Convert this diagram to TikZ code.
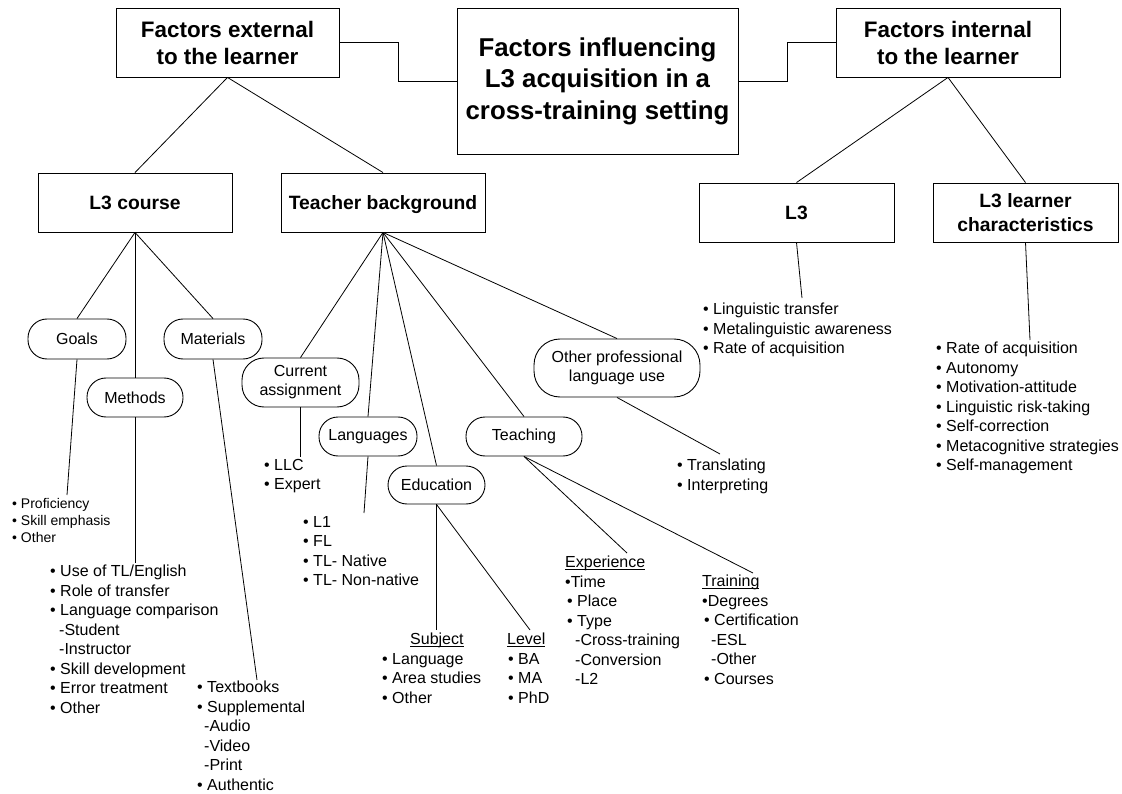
\documentclass[tikz,border=0pt]{standalone}
\usepackage{fontspec}
\setmainfont{Liberation Sans}
\newcommand\undl[1]{\setbox0\hbox{#1}\rlap{\rule[-2pt]{\wd0}{0.8pt}}\box0}
\begin{document}
\begin{tikzpicture}[x=1pt,y=-1pt,
  bx/.style={draw, line width=0.9pt, inner sep=0pt, align=center, font=\bfseries\fontsize{19.3}{23.5}\selectfont},
  onebx/.style={bx, text height=13.8pt, text depth=0pt},
  pill/.style={draw, line width=0.9pt, rounded corners=19pt, inner sep=0pt, align=center, font=\fontsize{16}{19}\selectfont},
  lst/.style={anchor=north west, inner sep=0pt, align=left, font=\fontsize{16}{19.5}\selectfont},
  cn/.style={line width=0.8pt}]
\useasboundingbox[fill=white] (0,0) rectangle (1122,794);

% top boxes
\node[bx, minimum width=223pt, minimum height=69pt, font=\bfseries\fontsize{22.4}{27}\selectfont] (ext) at (227.5,42.5) {Factors external\\to the learner};
\node[bx, minimum width=281pt, minimum height=146pt, font=\bfseries\fontsize{25.8}{31.5}\selectfont] (main) at (597.5,81) {Factors influencing\\L3 acquisition in a\\cross-training setting};
\node[bx, minimum width=224pt, minimum height=69pt, font=\bfseries\fontsize{22.4}{27}\selectfont] (int) at (948,42.5) {Factors internal\\to the learner};

% second level
\node[onebx, minimum width=194pt, minimum height=59pt] (lc) at (135,202.5) {L3 course};
\node[onebx, minimum width=204pt, minimum height=59pt] (tb) at (383,202.5) {Teacher background};
\node[onebx, minimum width=195pt, minimum height=59pt] (l3) at (796.5,212.5) {L3};
\node[bx, minimum width=185pt, minimum height=59pt] (l3lc) at (1025.5,212.5) {L3 learner\\characteristics};

% pills
\node[pill, minimum width=98pt, minimum height=40pt] (goals) at (77,339) {Goals};
\node[pill, minimum width=96pt, minimum height=39pt] (methods) at (135,397.5) {Methods};
\node[pill, minimum width=98pt, minimum height=40pt] (materials) at (213,339) {Materials};
\node[pill, minimum width=117pt, minimum height=49pt, rounded corners=22pt] (ca) at (300.5,382.5) {Current\\assignment};
\node[pill, minimum width=98pt, minimum height=39pt] (lang) at (368,436.5) {Languages};
\node[pill, minimum width=97pt, minimum height=38pt] (edu) at (436.5,485) {Education};
\node[pill, minimum width=116pt, minimum height=39pt] (teach) at (524,436.5) {Teaching};
\node[pill, minimum width=166pt, minimum height=58pt, rounded corners=26pt] (oplu) at (617,368) {Other professional\\language use};

% free ends
\coordinate (goalsEnd) at (67,495);
\coordinate (methEnd) at (135,563);
\coordinate (matEnd) at (257,680);
\coordinate (caEnd) at (300.5,457);
\coordinate (langEnd) at (364,513);
\coordinate (eduEndA) at (436.5,630);
\coordinate (eduEndB) at (530,630);
\coordinate (teachEndA) at (627,553);
\coordinate (teachEndB) at (753,573);
\coordinate (opluEnd) at (720,454);
\coordinate (lthreeEnd) at (802,298);
\coordinate (lthreelcEnd) at (1030,340);

% connectors
\draw[cn] (ext.east) -- ++(59,0) |- (main.west);
\draw[cn] (main.east) -- ++(49,0) |- (int.west);
\draw[cn] (ext.south) -- (lc.north);
\draw[cn] (ext.south) -- (tb.north);
\draw[cn] (int.south) -- (l3.north);
\draw[cn] (int.south) -- (l3lc.north);
\draw[cn] (lc.south) -- (goals.north);
\draw[cn] (lc.south) -- (methods.north);
\draw[cn] (lc.south) -- (materials.north);
\draw[cn] (tb.south) -- (ca.north);
\draw[cn] (tb.south) -- (lang.north);
\draw[cn] (tb.south) -- (edu.north);
\draw[cn] (tb.south) -- (teach.north);
\draw[cn] (tb.south) -- (oplu.north);
\draw[cn] (goals.south) -- (goalsEnd);
\draw[cn] (methods.south) -- (methEnd);
\draw[cn] (materials.south) -- (matEnd);
\draw[cn] (ca.south) -- (caEnd);
\draw[cn] (lang.south) -- (langEnd);
\draw[cn] (edu.south) -- (eduEndA);
\draw[cn] (edu.south) -- (eduEndB);
\draw[cn] (teach.south) -- (teachEndA);
\draw[cn] (teach.south) -- (teachEndB);
\draw[cn] (oplu.south) -- (opluEnd);
\draw[cn] (l3.south) -- (lthreeEnd);
\draw[cn] (l3lc.south) -- (lthreelcEnd);

% lists
\node[lst, font=\fontsize{14}{17}\selectfont] (goalsList) at (12,498) {• Proficiency\\• Skill emphasis\\• Other};
\node[lst] (methList) at (50,565) {• Use of TL/English\\• Role of transfer\\• Language comparison\\\hspace*{9pt}-Student\\\hspace*{9pt}-Instructor\\• Skill development\\• Error treatment\\• Other};
\node[lst] (matList) at (197,681) {• Textbooks\\• Supplemental\\\hspace*{7pt}-Audio\\\hspace*{7pt}-Video\\\hspace*{7pt}-Print\\• Authentic};
\node[lst] (caList) at (264,459) {• LLC\\• Expert};
\node[lst] (langList) at (303,516) {• L1\\• FL\\• TL- Native\\• TL- Non-native};
\node[lst] (subjList) at (382,633) {\hspace*{28pt}\undl{Subject}\\• Language\\• Area studies\\• Other};
\node[lst] (levelList) at (507,633) {\undl{Level}\\\hspace*{1pt}• BA\\\hspace*{1pt}• MA\\\hspace*{1pt}• PhD};
\node[lst] (expList) at (565,556) {\undl{Experience}\\•Time\\\hspace*{2pt}• Place\\\hspace*{2pt}• Type\\\hspace*{10pt}-Cross-training\\\hspace*{10pt}-Conversion\\\hspace*{10pt}-L2};
\node[lst] (trainList) at (702,575) {\undl{Training}\\•Degrees\\\hspace*{2pt}• Certification\\\hspace*{9pt}-ESL\\\hspace*{9pt}-Other\\\hspace*{2pt}• Courses};
\node[lst] (opluList) at (677,459) {• Translating\\• Interpreting};
\node[lst] (lthreeList) at (703,303) {• Linguistic transfer\\• Metalinguistic awareness\\• Rate of acquisition};
\node[lst] (lthreelcList) at (936,342) {• Rate of acquisition\\• Autonomy\\• Motivation-attitude\\• Linguistic risk-taking\\• Self-correction\\• Metacognitive strategies\\• Self-management};
\end{tikzpicture}
\end{document}
